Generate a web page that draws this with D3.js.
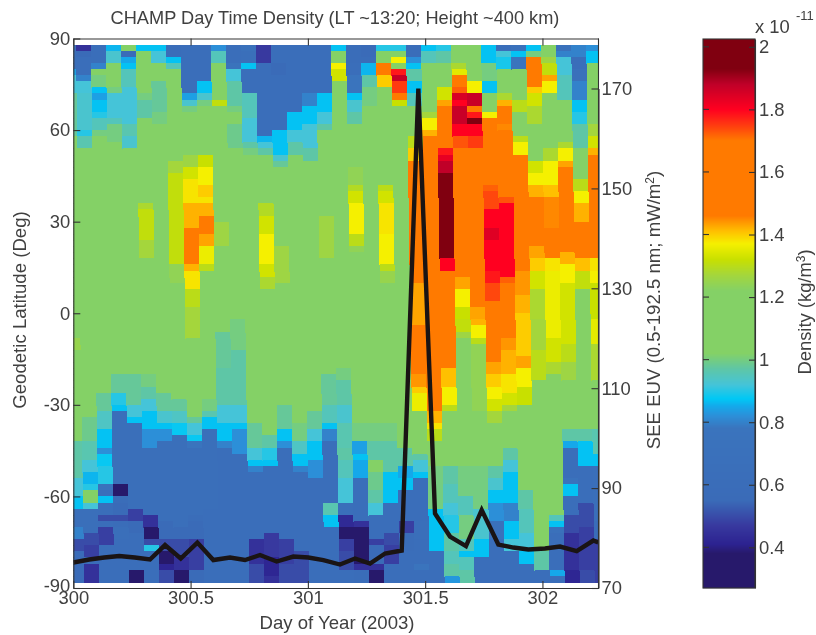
<!DOCTYPE html>
<html><head><meta charset="utf-8">
<script src="https://cdn.jsdelivr.net/npm/d3@7/dist/d3.min.js"></script>
<style>
html,body{margin:0;padding:0;background:#fff;overflow:hidden}
svg{display:block;filter:blur(0.6px)}
text{font-family:"Liberation Sans",Arial,sans-serif;fill:#404040}
</style></head><body><svg id="c" width="816" height="635"></svg>
<script>
const titleText="CHAMP Day Time Density (LT ~13:20; Height ~400 km)";
const dayTicks=[300,300.5,301,301.5,302];
const latTicks=[90,60,30,0,-30,-60,-90];
const euvTicks=[70,90,110,130,150,170];
const densTicks=[0.4,0.6,0.8,1,1.2,1.4,1.6,1.8,2];
const colorStops=[.27,.38,.41,.47,.55,.78,.82,.85,.875,.92,.97,1.02,1.22,1.27,1.32,1.37,1.41,1.46,1.70,1.75,1.80,1.88,1.93,2.03];
const colorHex=["#27196b","#27196b","#2c2290","#38399f","#3a6bb8","#3a74bd","#2c8fd8","#15a8ea","#00c8f5","#45c4d8","#5ec6a6","#84d166","#84d166","#a4d63c","#c8e000","#f5f000","#ffc000","#ff7a00","#ff7a00","#ff3a10","#ff0020","#c00028","#800010","#800010"];
// start day of every satellite pass (at 70 deg lat)
const passDays=[299.9505,300.0145,300.0785,300.1425,300.2065,300.2705,300.3345,300.3985,300.4625,300.5265,300.5905,300.6545,300.7185,300.7825,300.8465,300.9105,300.9745,301.0385,301.1025,301.1665,301.2305,301.2945,301.3585,301.4225,301.4865,301.5505,301.6145,301.6785,301.7425,301.8065,301.8705,301.9345,301.9985,302.0625,302.1265,302.1905];
// each pass: [density, latitude where this value ends], north to south
const passRuns=[
[[.62,80],[.84,78],[.92,71],[.98,57],[1.1,-8],[1.25,-12],[1.1,-43],[.97,-54],[.92,-61],[.87,-64],[.65,-71],[.8,-74],[.5,-78],[.58,-88]],
[[.45,86],[.55,84],[.62,78],[.8,76],[.85,75],[.92,72],[.93,59],[.9,57],[.96,54],[1.1,-34],[.99,-43],[.96,-49],[.92,-52],[.86,-56],[.9,-59],[1.15,-63],[.92,-65],[.65,-73],[.5,-76],[.48,-80],[.6,-82],[.45,-88]],
[[.62,82],[.8,80],[1.05,78],[1,74],[.87,72],[.84,69],[.87,66],[.9,63],[.95,59],[1,57],[1.1,-27],[.98,-33],[.94,-38],[.87,-45],[.82,-47],[.88,-50],[.9,-56],[.72,-58],[.65,-60],[.87,-63],[.62,-66],[.5,-69],[.62,-71],[.48,-76],[.63,-88]],
[[.86,85],[.93,82],[1.08,74],[1,72],[.92,64],[.95,61],[1,55],[1.1,-20],[.98,-27],[.9,-31],[.87,-33],[.65,-56],[.33,-60],[.6,-63],[.55,-66],[.5,-69],[.6,-71],[.65,-75],[.63,-88]],
[[1.05,86],[.87,85],[.55,83],[.85,81],[.87,79],[.95,74],[.92,62],[.96,58],[.93,54],[.98,53],[1.1,-20],[.98,-31],[.92,-34],[.87,-37],[.65,-64],[.48,-69],[.55,-73],[.63,-85],[.33,-88]],
[[.87,86],[.93,85],[1.08,72],[1,70],[.97,64],[1.1,46],[1.22,36],[1.28,33],[1.31,23],[1.27,17],[1.1,-21],[1,-24],[.97,-28],[.92,-33],[.87,-39],[.82,-45],[.65,-66],[.45,-70],[.33,-74],[.5,-76],[.9,-78],[.63,-88]],
[[.87,86],[.92,82],[1.08,76],[.98,66],[1,61],[1.1,-26],[.98,-32],[.93,-36],[.87,-39],[.82,-43],[.65,-69],[.55,-75],[.5,-79],[.33,-82],[.42,-85],[.5,-88]],
[[.6,84],[.87,82],[.95,80],[1.1,49],[1.27,46],[1.31,16],[1.24,9],[1.1,-28],[.98,-33],[.94,-37],[.88,-41],[.65,-70],[.55,-75],[.5,-81],[.45,-84],[.33,-88]],
[[.62,72],[.84,70],[.93,68],[1,66],[1.1,51],[1.26,47],[1.33,44],[1.38,35],[1.42,28],[1.46,16],[1.42,14],[1.38,8],[1.3,1],[1.27,-8],[1.1,-34],[.98,-37],[.92,-40],[.88,-43],[.78,-45],[.65,-66],[.6,-69],[.55,-74],[.48,-85],[.55,-88]],
[[.62,76],[.87,72],[.93,70],[1,68],[1.1,52],[1.32,48],[1.37,41],[1.40,38],[1.38,35],[1.42,32],[1.49,25],[1.43,22],[1.36,15],[1.3,13],[1.1,-28],[1,-32],[.96,-35],[.87,-39],[.65,-65],[.63,-88]],
[[.82,86],[.84,85],[.95,82],[1.08,70],[1.31,68],[1.1,39],[1.15,29],[1.26,21],[1.1,-1],[1.02,-6],[.98,-18],[.97,-30],[.92,-36],[.87,-43],[.8,-45],[.63,-88]],
[[.62,81],[.75,79],[.92,75],[.97,68],[1,65],[1.02,62],[.99,54],[1.1,-3],[1,-13],[.97,-30],[.92,-36],[.87,-39],[.82,-47],[.63,-88]],
[[.7,85],[.65,82],[.87,80],[.63,72],[.95,63],[.92,55],[.97,53],[1,51],[1.1,-37],[.98,-45],[.92,-48],[.87,-50],[.8,-52],[.63,-75],[.45,-82],[.5,-88]],
[[.47,82],[.63,58],[.86,55],[.92,53],[.97,51],[1.1,35],[1.29,32],[1.33,26],[1.37,16],[1.33,11],[1.28,8],[1.1,-40],[.97,-44],[.9,-48],[.87,-50],[.63,-73],[.47,-80],[.42,-86],[.45,-88]],
[[.63,81],[.55,78],[.63,60],[.87,52],[.93,49],[.98,47],[1.1,22],[1.26,10],[1.1,-31],[.98,-38],[.87,-42],[.82,-44],[.63,-75],[.48,-83],[.5,-88]],
[[.63,66],[.87,60],[.92,55],[.97,52],[1.1,-36],[1,-43],[.94,-47],[.87,-51],[.8,-53],[.63,-78],[.5,-88]],
[[.63,71],[.8,67],[.87,62],[.92,53],[.97,50],[1.1,-33],[.98,-38],[.92,-43],[.87,-49],[.82,-55],[.63,-88]],
[[.63,72],[.8,71],[.87,65],[.92,62],[.97,59],[1.1,32],[1.26,17],[1.1,-21],[.98,-30],[.95,-36],[.87,-39],[.8,-43],[.63,-63],[.96,-67],[.87,-71],[.63,-88]],
[[.87,85],[1.05,82],[1.37,79],[1.33,76],[1.2,70],[1.1,-18],[1,-22],[.97,-30],[.93,-36],[.96,-45],[.97,-49],[.95,-55],[.92,-62],[.87,-63],[.65,-67],[.43,-71],[.38,-75],[.48,-79],[.5,-84],[.63,-88]],
[[.6,82],[.62,78],[.78,72],[.87,70],[.93,66],[.97,61],[1.1,47],[1.24,42],[1.29,39],[1.33,35],[1.37,25],[1.30,22],[1.24,20],[1.1,-31],[1.03,-36],[1,-43],[.84,-47],[.87,-49],[.85,-54],[.63,-68],[.45,-71],[.35,-83],[.45,-85],[.6,-88]],
[[.55,84],[.6,82],[.86,77],[.97,74],[1,68],[1.1,-37],[1,-43],[.97,-48],[1.04,-52],[.99,-58],[.97,-62],[.92,-66],[.63,-74],[.48,-76],[.55,-83],[.45,-85],[.35,-88]],
[[.9,86],[1.15,82],[1.5,78],[1.45,77],[1.4,74],[1.3,73],[1.1,49],[1.22,42],[1.3,39],[1.33,35],[1.38,26],[1.37,16],[1.3,14],[1.25,10],[1.1,-36],[1,-43],[.97,-52],[.87,-63],[.62,-73],[.5,-76],[.48,-82],[.62,-88]],
[[.9,85],[1.05,84],[1.37,82],[1.1,80],[1.78,77],[1.87,75],[1.75,72],[1.5,70],[1.42,69],[1.32,67],[1.1,30],[1.2,21],[1.1,-45],[.97,-50],[.85,-55],[.87,-59],[.63,-69],[.48,-73],[.6,-78],[.62,-88]],
[[.6,84],[.82,82],[.87,80],[.97,76],[.87,72],[.95,67],[1.1,57],[1.3,54],[1.4,50],[1.5,16],[1.46,10],[1.43,-4],[1.5,-21],[1.44,-25],[1.4,-27],[1.36,-33],[1.15,-38],[1.05,-47],[.97,-49],[.92,-52],[.87,-55],[.63,-69],[.65,-75],[.63,-82],[.78,-84],[.63,-88]],
[[.87,86],[.95,81],[1.1,66],[1.27,63],[1.37,60],[1.42,58],[1.5,-32],[1.42,-36],[1.38,-39],[1.3,-43],[1.1,-50],[1,-64],[.87,-78],[.63,-88]],
[[.9,85],[.97,82],[1.1,73],[1.33,70],[1.43,68],[1.5,54],[1.78,52],[1.83,49],[1.88,45],[1.97,18],[1.86,17],[1.8,13],[1.5,-15],[1.46,-18],[1.41,-24],[1.37,-30],[1.3,-32],[1.2,-35],[1.1,-50],[.97,-57],[.95,-63],[.92,-67],[.9,-73],[.97,-78],[.95,-83],[.97,-86],[.83,-88]],
[[1.1,81],[1.28,79],[1.35,77],[1.5,73],[1.72,71],[1.85,70],[1.8,67],[1.87,62],[1.8,58],[1.73,54],[1.5,11],[1.43,8],[1.37,2],[1.32,-2],[1.31,-6],[1.26,-9],[1.15,-14],[1.1,-51],[1,-60],[.95,-66],[1,-75],[.95,-78],[.87,-80],[.95,-84],[.97,-88]],
[[1.08,82],[1.15,76],[1.33,75],[1.37,72],[1.45,71],[1.87,67],[1.55,65],[1.78,63],[1.93,61],[1.8,57],[1.75,54],[1.5,41],[1.62,28],[1.5,1],[1.43,-2],[1.42,-5],[1.37,-8],[1.3,-11],[1.24,-32],[1.1,-50],[1,-64],[.93,-74],[.87,-80],[.63,-88]],
[[.87,82],[1,76],[.92,75],[.87,71],[1.05,66],[1.3,65],[1.37,63],[1.46,59],[1.5,42],[1.72,39],[1.74,34],[1.8,27],[1.84,24],[1.8,14],[1.78,9],[1.74,4],[1.5,-16],[1.43,-20],[1.4,-24],[1.37,-28],[1.33,-33],[1.27,-36],[1.1,-51],[.97,-55],[.93,-58],[.87,-63],[.82,-69],[.7,-75],[.63,-88]],
[[.63,85],[.92,83],[.89,80],[1.1,72],[1.28,70],[1.42,68],[1.5,62],[1.45,59],[1.5,37],[1.73,35],[1.8,12],[1.72,9],[1.5,-9],[1.44,-13],[1.42,-20],[1.38,-27],[1.33,-31],[1.27,-33],[1.1,-45],[.97,-48],[.92,-52],[.87,-62],[.8,-69],[.87,-75],[.92,-78],[.63,-88]],
[[.7,85],[.87,83],[.78,80],[1.08,70],[1.3,66],[1.2,64],[1.15,58],[1.3,56],[1.37,52],[1.43,51],[1.5,13],[1.44,5],[1.42,-1],[1.4,-15],[1.43,-19],[1.37,-25],[1.32,-31],[1.1,-58],[.97,-64],[.95,-72],[.92,-78],[.87,-83],[.63,-88]],
[[.87,86],[1,84],[1.5,74],[1.4,71],[1.33,68],[1.28,61],[1.15,50],[1.33,46],[1.37,41],[1.42,37],[1.5,21],[1.43,17],[1.4,13],[1.33,8],[1.28,-2],[1.27,-13],[1.3,-22],[1.1,-78],[.97,-84],[.63,-88]],
[[1.1,83],[1.26,81],[1.31,78],[1.43,76],[1.5,75],[1.37,72],[1.1,54],[1.28,50],[1.37,42],[1.41,38],[1.45,27],[1.5,18],[1.38,13],[1.36,-9],[1.33,-16],[1.28,-21],[1.1,-66],[.95,-68],[.87,-70],[.7,-73],[.63,-84],[.85,-86],[.63,-88]],
[[.7,85],[.8,84],[.92,77],[.95,70],[1.1,55],[1.28,53],[1.37,50],[1.43,47],[1.5,23],[1.46,20],[1.42,16],[1.37,9],[1.33,-10],[1.3,-16],[1.26,-22],[1.1,-39],[.97,-42],[.85,-45],[.63,-54],[.72,-56],[.87,-61],[.63,-67],[.5,-73],[.45,-84],[.42,-88]],
[[.7,87],[.8,83],[.63,79],[.7,76],[.8,69],[.87,66],[.9,61],[.97,54],[1.1,43],[1.3,39],[1.37,35],[1.42,30],[1.5,22],[1.46,18],[1.41,13],[1.31,8],[1.15,-2],[1.1,-38],[.97,-42],[.87,-50],[.63,-63],[.5,-70],[.48,-84],[.5,-88]],
[[.82,86],[.87,81],[1.1,62],[1.27,58],[1.33,54],[1.42,51],[1.5,22],[1.46,18],[1.38,14],[1.37,9],[1.32,-2],[1.35,-10],[1.28,-22],[1.1,-39],[.96,-46],[.87,-51],[.65,-69],[.6,-75],[.48,-88]]
];
const euvDays=[300,300.068,300.132,300.196,300.262,300.327,300.391,300.458,300.529,300.597,300.668,300.732,300.796,300.867,300.938,301.002,301.066,301.137,301.201,301.265,301.329,301.400,301.471,301.542,301.606,301.674,301.741,301.812,301.876,301.940,302.011,302.075,302.146,302.217,302.238];
const euvVals=[75.1,75.7,76.1,76.4,76.1,75.7,78.6,75.9,79.1,75.6,76.1,75.6,76.6,75.3,76.3,76.1,75.6,74.7,75.9,74.9,76.9,77.5,170,84.9,80.3,78.4,85.6,78.7,78.1,77.7,77.9,78.3,77.4,79.5,79.1];
const passLength=0.064, orbitTilt=0.000206, tiltRefLat=70, latStep=2;

const svg=d3.select("#c");
const L=73.3,R=598.5,T=38.5,B=588, CL=703,CR=755,CT=39,CB=588;
const x=d3.scaleLinear().domain([300,302.239]).range([L,R]);
const y=d3.scaleLinear().domain([90,-90]).range([T,B]);
const yE=d3.scaleLinear().domain([70,170]).range([B,88.5]);
const yC=d3.scaleLinear().domain([.27,2.025]).range([CB,CT]);
const color=d3.scaleLinear().domain(colorStops).range(colorHex).clamp(true);
const ink="#333", txt="#404040", FS=18.4;

svg.append("clipPath").attr("id","clip").append("rect").attr("x",L).attr("y",T).attr("width",R-L).attr("height",B-T);
const cells=svg.append("g").attr("clip-path","url(#clip)").attr("shape-rendering","crispEdges");
const lats=d3.range(88,-88,-latStep);
passRuns.forEach((runs,i)=>{
  lats.forEach(lat=>{
    const low=lat-latStep;
    const run=runs.find(r=>r[1]<=low+0.5)||runs[runs.length-1];
    const d=passDays[i]+(tiltRefLat-lat)*orbitTilt;
    cells.append("rect")
      .attr("x",x(d)).attr("width",x(d+passLength)-x(d)+1)
      .attr("y",y(lat)).attr("height",y(low)-y(lat)+1)
      .attr("fill",color(run[0]));
  });
});
svg.append("g").attr("clip-path","url(#clip)").append("path").datum(euvDays.map((d,i)=>[d,euvVals[i]]))
  .attr("d",d3.line().x(d=>x(d[0])).y(d=>yE(d[1])))
  .attr("fill","none").attr("stroke","#1a1414").attr("stroke-width",4.4).attr("stroke-linejoin","miter");

function styleAxis(g){
  g.selectAll("path.domain").attr("stroke",ink).attr("stroke-width",1.1);
  g.selectAll("line").attr("stroke",ink).attr("stroke-width",1.1);
  g.selectAll("text").attr("fill",txt).style("font-size",FS+"px").style("font-family",'"Liberation Sans",Arial,sans-serif');
}
const tl=7;
styleAxis(svg.append("g").attr("transform",`translate(0,${B})`).call(d3.axisBottom(x).tickValues(dayTicks).tickFormat(String).tickSizeInner(-tl).tickSizeOuter(0).tickPadding(3)));
styleAxis(svg.append("g").attr("transform",`translate(0,${T})`).call(d3.axisTop(x).tickValues(dayTicks).tickFormat("").tickSizeInner(-tl).tickSizeOuter(0)));
const leftAx=svg.append("g").attr("transform",`translate(${L},0)`).call(d3.axisLeft(y).tickValues(latTicks).tickFormat(String).tickSizeInner(-tl).tickSizeOuter(0).tickPadding(3));
styleAxis(leftAx);
leftAx.selectAll("text").filter(d=>d===-90).attr("dy","0.2em");
const rightAx=svg.append("g").attr("transform",`translate(${R},0)`).call(d3.axisRight(yE).tickValues(euvTicks).tickSizeInner(-tl).tickSizeOuter(0).tickPadding(3));
styleAxis(rightAx);
svg.append("line").attr("x1",R).attr("x2",R).attr("y1",T).attr("y2",B).attr("stroke",ink).attr("stroke-width",1.1);

// colour bar
const slices=d3.range(CT,CB,1);
svg.append("g").selectAll("rect").data(slices).join("rect")
  .attr("x",CL).attr("width",CR-CL).attr("y",d=>d).attr("height",1.2)
  .attr("fill",d=>color(yC.invert(d+.5)));
svg.append("rect").attr("x",CL).attr("y",CT).attr("width",CR-CL).attr("height",CB-CT).attr("fill","none").attr("stroke",ink).attr("stroke-width",1.1);
const cb=svg.append("g").attr("transform",`translate(${CR},0)`).call(d3.axisRight(yC).tickValues(densTicks).tickFormat(String).tickSizeInner(-6).tickSizeOuter(0).tickPadding(4));
styleAxis(cb);
svg.append("g").selectAll("line").data(densTicks).join("line")
  .attr("x1",CL).attr("x2",CL+6).attr("y1",d=>yC(d)).attr("y2",d=>yC(d)).attr("stroke",ink).attr("stroke-width",1.1);

function label(t,px,py,fs,rot,anchor){
  return svg.append("text").attr("transform",`translate(${px},${py})`+(rot?` rotate(${rot})`:"")).attr("text-anchor",anchor||"middle").style("font-size",fs+"px").text(t);
}
label(titleText,335,24,18.2);
label("Day of Year (2003)",337,629,18.6);
label("Geodetic Latitude (Deg)",26,310,18.6,-90);
const e=label("SEE EUV (0.5-192.5 nm; mW/m",660,310,18.6,-90);
e.append("tspan").attr("dy",-6).style("font-size","12px").text("2");
e.append("tspan").attr("dy",6).text(")");
const dl=label("Density (kg/m",811,312,18.4,-90);
dl.append("tspan").attr("dy",-6).style("font-size","12px").text("3");
dl.append("tspan").attr("dy",6).text(")");
label("x 10",755,33,18.4,0,"start");
label("-11",796,20,13,0,"start");
</script></body></html>
